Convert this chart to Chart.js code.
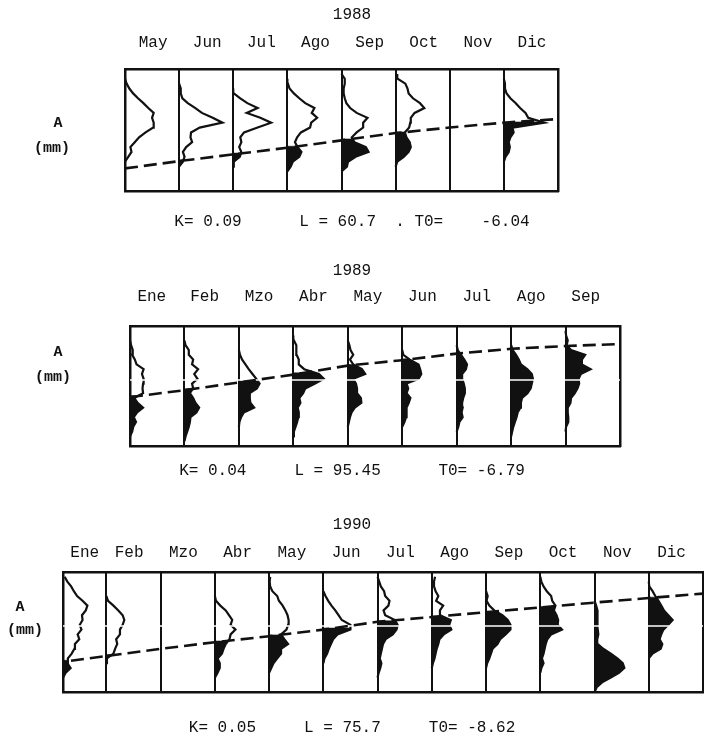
<!DOCTYPE html>
<html>
<head>
<meta charset="utf-8">
<title>Distribuciones de tallas 1988-1990</title>
<script src="https://cdn.jsdelivr.net/npm/chart.js@4.4.1/dist/chart.umd.min.js"></script>
<style>
  body { margin: 0; background: #fff; }
  #page { position: relative; width: 704px; height: 738px; overflow: hidden; background: #fff; }
  #page canvas { position: absolute; left: 0; }
  .axis-label {
    position: absolute;
    transform: translate(-50%, -50%);
    font: bold 15px "Liberation Mono", "DejaVu Sans Mono", monospace;
    color: #111;
    white-space: nowrap;
  }
</style>
</head>
<body>
<div id="page">
  <canvas id="chart1988" width="704" height="236"></canvas>
  <canvas id="chart1989" width="704" height="236"></canvas>
  <canvas id="chart1990" width="704" height="236"></canvas>

  <div class="axis-label" style="left:58px;top:123px">A</div>
  <div class="axis-label" style="left:52px;top:148px">(mm)</div>
  <div class="axis-label" style="left:58px;top:352px">A</div>
  <div class="axis-label" style="left:53px;top:377px">(mm)</div>
  <div class="axis-label" style="left:20px;top:607px">A</div>
  <div class="axis-label" style="left:25px;top:630px">(mm)</div>
</div>

<script>
// =============== DATA ===============

// length classes (y axis), shared by every month
const lengthClasses = [0, 4, 8, 12, 16, 20, 24, 28, 32, 36, 40, 44, 48, 52, 56, 60, 64, 68, 72, 76, 80, 84, 88, 92, 96];

// 1988
const months1988 = ["May", "Jun", "Jul", "Ago", "Sep", "Oct", "Nov", "Dic"];
const freq1988 = [
  [0, 0, 0, 0, 0, 0, 0, 0.06, 0.12, 0.1, 0.18, 0.26, 0.38, 0.52, 0.53, 0.5, 0.53, 0.43, 0.34, 0.24, 0.15, 0.08, 0.03, 0, 0],
  [0, 0, 0, 0, 0, 0, 0.07, 0.1, 0.07, 0.13, 0.24, 0.21, 0.22, 0.38, 0.8, 0.62, 0.42, 0.3, 0.16, 0.06, 0.03, 0.03, 0, 0, 0],
  [0, 0, 0, 0, 0, 0, 0.01, 0.12, 0.15, 0.11, 0.15, 0.13, 0.2, 0.45, 0.7, 0.5, 0.25, 0.45, 0.26, 0.13, 0.01, 0, 0, 0, 0],
  [0, 0, 0, 0, 0, 0.06, 0.1, 0.22, 0.26, 0.19, 0.14, 0.18, 0.25, 0.42, 0.44, 0.55, 0.45, 0.5, 0.33, 0.22, 0.12, 0.04, 0.01, 0, 0],
  [0, 0, 0, 0, 0, 0.1, 0.12, 0.26, 0.5, 0.45, 0.24, 0.19, 0.28, 0.4, 0.4, 0.48, 0.28, 0.16, 0.09, 0.06, 0.04, 0.04, 0.06, 0.06, 0],
  [0, 0, 0, 0, 0, 0, 0.03, 0.15, 0.24, 0.28, 0.26, 0.2, 0.17, 0.25, 0.27, 0.28, 0.35, 0.53, 0.45, 0.32, 0.24, 0.22, 0.18, 0.04, 0.03],
  [0, 0, 0, 0, 0, 0, 0, 0, 0, 0, 0, 0, 0, 0, 0, 0, 0, 0, 0, 0, 0, 0, 0, 0, 0],
  [0, 0, 0, 0, 0, 0, 0, 0.03, 0.09, 0.11, 0.09, 0.12, 0.18, 0.16, 0.75, 0.45, 0.4, 0.3, 0.22, 0.12, 0.05, 0.02, 0.02, 0, 0],
];
const growth1988 = [18.5, 24.5, 30, 35.5, 41.5, 47.5, 52, 56, 59];
const params1988 = "K= 0.09      L = 60.7  . T0=    -6.04";

// 1989
const months1989 = ["Ene", "Feb", "Mzo", "Abr", "May", "Jun", "Jul", "Ago", "Sep"];
const freq1989 = [
  [0, 0, 0, 0.04, 0.06, 0.11, 0.07, 0.13, 0.24, 0.14, 0.08, 0.24, 0.23, 0.24, 0.25, 0.22, 0.25, 0.12, 0.09, 0.04, 0.05, 0.02, 0, 0, 0],
  [0, 0, 0.02, 0.05, 0.08, 0.1, 0.11, 0.22, 0.27, 0.2, 0.16, 0.1, 0.16, 0.14, 0.24, 0.18, 0.25, 0.14, 0.16, 0.08, 0.08, 0.02, 0, 0, 0],
  [0, 0, 0, 0, 0, 0.01, 0.04, 0.09, 0.28, 0.21, 0.2, 0.2, 0.33, 0.38, 0.32, 0.25, 0.18, 0.12, 0.06, 0.02, 0, 0, 0, 0, 0],
  [0, 0, 0, 0.01, 0.04, 0.07, 0.09, 0.1, 0.08, 0.13, 0.11, 0.18, 0.22, 0.4, 0.56, 0.47, 0.2, 0.1, 0.1, 0.06, 0.06, 0.05, 0.01, 0, 0],
  [0, 0, 0, 0, 0, 0.02, 0.04, 0.07, 0.13, 0.25, 0.24, 0.17, 0.17, 0.15, 0.1, 0.32, 0.26, 0.1, 0.04, 0.1, 0.05, 0.03, 0, 0, 0],
  [0, 0, 0, 0, 0, 0.04, 0.07, 0.08, 0.08, 0.12, 0.15, 0.08, 0.11, 0.08, 0.3, 0.35, 0.33, 0.3, 0.14, 0.02, 0, 0, 0, 0, 0],
  [0, 0, 0, 0, 0.03, 0.05, 0.11, 0.09, 0.11, 0.1, 0.12, 0.15, 0.15, 0.13, 0.1, 0.1, 0.17, 0.19, 0.14, 0.08, 0.02, 0, 0, 0, 0],
  [0, 0, 0, 0.02, 0.04, 0.07, 0.1, 0.12, 0.17, 0.18, 0.2, 0.3, 0.36, 0.38, 0.4, 0.38, 0.3, 0.18, 0.14, 0.09, 0.03, 0, 0, 0, 0],
  [0, 0, 0, 0, 0.01, 0.05, 0.05, 0.04, 0.04, 0.09, 0.1, 0.17, 0.22, 0.25, 0.24, 0.28, 0.46, 0.3, 0.3, 0.36, 0.1, 0.02, 0.04, 0.01, 0],
];
const growth1989 = [40.8, 46.5, 53, 59.5, 67, 71.5, 77, 81, 83.3, 85];
const params1989 = "K= 0.04     L = 95.45      T0= -6.79";

// 1990
const months1990 = ["Ene", "Feb", "Mzo", "Abr", "May", "Jun", "Jul", "Ago", "Sep", "Oct", "Nov", "Dic"];
const freq1990 = [
  [0, 0, 0, 0, 0.05, 0.14, 0.08, 0.09, 0.16, 0.21, 0.22, 0.3, 0.27, 0.34, 0.31, 0.36, 0.35, 0.42, 0.45, 0.36, 0.26, 0.2, 0.15, 0.08, 0.03],
  [0, 0, 0, 0, 0, 0, 0, 0.01, 0.13, 0.16, 0.2, 0.18, 0.25, 0.25, 0.3, 0.33, 0.3, 0.22, 0.13, 0.03, 0, 0, 0, 0, 0],
  [0, 0, 0, 0, 0, 0, 0, 0, 0, 0, 0, 0, 0, 0, 0, 0, 0, 0, 0, 0, 0, 0, 0, 0, 0],
  [0, 0, 0, 0, 0.05, 0.09, 0.09, 0.05, 0.13, 0.16, 0.2, 0.27, 0.29, 0.38, 0.29, 0.32, 0.26, 0.2, 0.1, 0.02, 0, 0, 0, 0, 0],
  [0, 0, 0, 0, 0, 0.04, 0.08, 0.15, 0.22, 0.22, 0.35, 0.28, 0.22, 0.32, 0.35, 0.36, 0.34, 0.3, 0.25, 0.18, 0.15, 0.06, 0.02, 0.01, 0.02],
  [0, 0, 0, 0, 0, 0, 0, 0.02, 0.07, 0.1, 0.14, 0.18, 0.26, 0.5, 0.5, 0.34, 0.28, 0.22, 0.15, 0.09, 0.04, 0, 0, 0, 0],
  [0, 0, 0, 0, 0.02, 0.05, 0.07, 0.04, 0.06, 0.08, 0.1, 0.15, 0.28, 0.35, 0.37, 0.32, 0.14, 0.11, 0.2, 0.22, 0.14, 0.12, 0.06, 0.03, 0],
  [0, 0, 0, 0, 0, 0, 0.02, 0.05, 0.07, 0.09, 0.12, 0.14, 0.22, 0.36, 0.32, 0.35, 0.15, 0.15, 0.21, 0.08, 0.12, 0.07, 0.04, 0.04, 0.06],
  [0, 0, 0, 0, 0, 0, 0.02, 0.06, 0.09, 0.12, 0.21, 0.26, 0.36, 0.45, 0.45, 0.4, 0.3, 0.15, 0.06, 0.01, 0.03, 0, 0, 0, 0],
  [0, 0, 0, 0, 0, 0.02, 0.06, 0.03, 0.06, 0.08, 0.1, 0.13, 0.2, 0.4, 0.32, 0.33, 0.3, 0.25, 0.28, 0.22, 0.2, 0.12, 0.06, 0.02, 0],
  [0, 0.04, 0.14, 0.3, 0.45, 0.55, 0.52, 0.42, 0.3, 0.16, 0.06, 0.05, 0.07, 0.06, 0.05, 0.06, 0.06, 0.05, 0.03, 0, 0, 0, 0, 0, 0],
  [0, 0, 0, 0, 0, 0, 0, 0, 0.07, 0.22, 0.25, 0.2, 0.23, 0.27, 0.36, 0.44, 0.36, 0.28, 0.23, 0.18, 0.12, 0.07, 0.01, 0, 0],
];
const growth1990 = [24, 30, 36, 41.5, 46.5, 52, 58.5, 62.5, 66.5, 70.5, 74.5, 78.3, 82];
const params1990 = "K= 0.05     L = 75.7     T0= -8.62";


// =============== LAYOUT / STYLE ===============

const INK = "#111";
const FONT = "'Liberation Mono', 'DejaVu Sans Mono', monospace";
const LINE_H = 19.2; // 16px font * 1.2

// pixel placement of each panel on the page
const panels = [
  { id: "chart1988", year: "1988", months: months1988, freqs: freq1988, growth: growth1988, params: params1988,
    top: 0, left: 125, right: 558, xMin: 0, labelShift: 0.52, gaps: [],
    titlePad: { top: 5.4, bottom: 8.8 }, monthPad: 16.4, subPad: { top: 21.4, bottom: 4.4 } },
  { id: "chart1989", year: "1989", months: months1989, freqs: freq1989, growth: growth1989, params: params1989,
    top: 250, left: 130, right: 620, xMin: 0, labelShift: 0.37, gaps: [55],
    titlePad: { top: 11.4, bottom: 6.8 }, monthPad: 19.4, subPad: { top: 15.4, bottom: 5.4 } },
  { id: "chart1990", year: "1990", months: months1990, freqs: freq1990, growth: growth1990, params: params1990,
    top: 502, left: 63, right: 703, xMin: 0.2, labelShift: 0.42, gaps: [55],
    titlePad: { top: 13.4, bottom: 8.8 }, monthPad: 9.4, subPad: { top: 26.4, bottom: 0.4 } },
];


// =============== HELPERS ===============

function growthAt(growth, x) {
  const i = Math.min(Math.max(Math.floor(x), 0), growth.length - 2);
  return growth[i] + (growth[i + 1] - growth[i]) * (x - i);
}

// frequency polygon of one month, drawn to the right of its column edge
function profile(freq, base) {
  const first = freq.findIndex((v) => v > 0);
  if (first < 0) return [];
  let last = freq.length - 1;
  while (freq[last] === 0) last--;
  const lo = Math.max(first - 1, 0);
  const hi = Math.min(last + 1, freq.length - 1);
  const pts = [];
  for (let k = lo; k <= hi; k++) {
    pts.push({ x: base + freq[k], y: lengthClasses[k] });
  }
  return pts;
}

// part of the polygon below the growth curve, closed on the column edge
function filledPart(pts, base, cut) {
  const shape = [];
  for (let k = 0; k < pts.length; k++) {
    const p = pts[k];
    if (p.y <= cut) {
      shape.push(p);
      continue;
    }
    const q = pts[k - 1];
    if (q) {
      const t = (cut - q.y) / (p.y - q.y);
      shape.push({ x: q.x + (p.x - q.x) * t, y: cut });
    }
    break;
  }
  if (shape.length < 2) return null;
  shape.unshift({ x: base, y: shape[0].y });
  shape.push({ x: base, y: shape[shape.length - 1].y });
  return shape;
}

function buildDatasets(panel) {
  const xMax = panel.months.length;
  const datasets = [];

  panel.freqs.forEach((freq, i) => {
    const base = Math.max(i, panel.xMin);
    const pts = profile(freq, base);
    if (!pts.length) return;

    const shape = filledPart(pts, base, growthAt(panel.growth, base + 0.2));
    if (shape) {
      datasets.push({ data: shape, fill: "shape", backgroundColor: INK, borderColor: INK, borderWidth: 0.5, order: 3 });
    }
    datasets.push({ data: pts, borderColor: INK, borderWidth: 2.2, fill: false, order: 2 });
  });

  // white scan line that cuts the black areas
  panel.gaps.forEach((y) => {
    datasets.push({
      data: [{ x: panel.xMin, y }, { x: xMax, y }],
      borderColor: "#fff", borderWidth: 1.6, fill: false, order: 1,
    });
  });

  // growth curve
  datasets.push({
    data: panel.growth.map((y, x) => ({ x, y })),
    borderColor: INK, borderWidth: 2.6, borderDash: [13, 6], fill: false, order: 0,
  });

  return datasets;
}


// =============== CHARTS ===============

function drawPanel(panel) {
  const canvas = document.getElementById(panel.id);
  canvas.style.top = panel.top + "px";

  const xMax = panel.months.length;
  const edges = [panel.xMin];
  for (let i = 1; i <= xMax; i++) edges.push(i);

  new Chart(canvas, {
    type: "line",
    data: { datasets: buildDatasets(panel) },
    options: {
      responsive: false,
      animation: false,
      events: [],
      layout: { padding: 0 },
      elements: { point: { radius: 0 }, line: { tension: 0 } },
      plugins: {
        legend: { display: false },
        tooltip: { enabled: false },
        title: {
          display: true,
          text: panel.year,
          color: INK,
          font: { family: FONT, size: 16, weight: "normal" },
          padding: panel.titlePad,
        },
        subtitle: {
          display: true,
          position: "bottom",
          text: panel.params,
          color: INK,
          font: { family: FONT, size: 16, weight: "normal" },
          padding: panel.subPad,
        },
      },
      scales: {
        x: {
          type: "linear",
          position: "bottom",
          min: panel.xMin,
          max: xMax,
          z: 1,
          afterBuildTicks: (axis) => { axis.ticks = edges.map((v) => ({ value: v })); },
          afterFit: (axis) => { axis.height = 0; },
          grid: { color: INK, lineWidth: 2, drawTicks: false },
          border: { color: INK, width: 2.5 },
          ticks: { display: false },
        },
        xTop: {
          type: "linear",
          position: "top",
          min: panel.xMin,
          max: xMax,
          z: 1,
          afterBuildTicks: (axis) => {
            axis.ticks = panel.months.map((m, i) => ({ value: Math.max(i + panel.labelShift, panel.xMin + 0.4) }));
          },
          afterFit: (axis) => { axis.height = LINE_H + panel.monthPad; },
          grid: { display: false, drawTicks: false },
          border: { color: INK, width: 2.5 },
          ticks: {
            autoSkip: false,
            maxRotation: 0,
            padding: panel.monthPad,
            color: INK,
            font: { family: FONT, size: 16 },
            callback: (value, index) => panel.months[index],
          },
        },
        y: {
          type: "linear",
          position: "left",
          min: 0,
          max: 100,
          z: 1,
          afterFit: (axis) => { axis.width = panel.left; },
          grid: { display: false, drawTicks: false },
          border: { color: INK, width: 2.5 },
          ticks: { display: false },
        },
        yRight: {
          type: "linear",
          position: "right",
          min: 0,
          max: 100,
          z: 1,
          afterFit: (axis) => { axis.width = 704 - panel.right; },
          grid: { display: false, drawTicks: false },
          border: { color: INK, width: 2.5 },
          ticks: { display: false },
        },
      },
    },
  });
}

document.addEventListener("DOMContentLoaded", () => {
  panels.forEach(drawPanel);
});
</script>
</body>
</html>
